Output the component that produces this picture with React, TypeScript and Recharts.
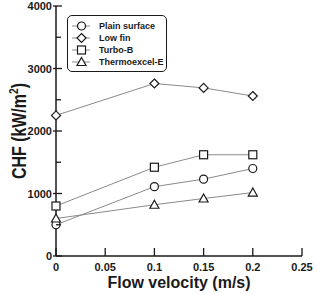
import { LineChart, Line, XAxis, YAxis } from "recharts";

const FONT = "'Liberation Sans', Arial, sans-serif";
const INK = "#1a1a1a";
const LINE_GREY = "#8a8a8a";

// flow velocity (m/s)
const velocity = [0, 0.1, 0.15, 0.2];
// CHF values in kW/m^2
const plainSurface = [500, 1110, 1230, 1400];
const lowFin = [2250, 2760, 2690, 2560];
const turboB = [800, 1420, 1620, 1620];
const thermoexcelE = [600, 820, 920, 1015];

const xTicks = [0, 0.05, 0.1, 0.15, 0.2, 0.25];
const yTicks = [0, 500, 1000, 1500, 2000, 2500, 3000, 3500, 4000];

const seriesNames = ["Plain surface", "Low fin", "Turbo-B", "Thermoexcel-E"];

const rows = velocity.map((v, i) => ({
  v,
  plain: plainSurface[i],
  lowFin: lowFin[i],
  turbo: turboB[i],
  thermo: thermoexcelE[i],
}));

type Shape = "circle" | "diamond" | "square" | "triangle";

function Marker({ cx, cy, shape }: { cx: number; cy: number; shape: Shape }) {
  const common = { fill: "#fff", stroke: INK, strokeWidth: 1.2 };
  if (shape === "circle") return <circle cx={cx} cy={cy} r={4} {...common} />;
  if (shape === "square") return <rect x={cx - 4} y={cy - 4} width={8} height={8} {...common} />;
  if (shape === "diamond")
    return <polygon points={`${cx},${cy - 4.5} ${cx + 4.5},${cy} ${cx},${cy + 4.5} ${cx - 4.5},${cy}`} {...common} />;
  return <polygon points={`${cx},${cy - 4.5} ${cx + 4.5},${cy + 3.5} ${cx - 4.5},${cy + 3.5}`} {...common} />;
}

const dotFor = (shape: Shape) => (props: any) => (
  <Marker key={`${shape}-${props.index}`} cx={props.cx} cy={props.cy} shape={shape} />
);

const shapes: Shape[] = ["circle", "diamond", "square", "triangle"];

function YTick({ x, y, payload }: any) {
  const v = payload.value as number;
  const major = v % 1000 === 0;
  return (
    <g>
      <line x1={major ? x - 3 : x} x2={x + (major ? 6 : 5)} y1={y} y2={y} stroke={INK} strokeWidth={1.3} />
      {major && (
        <text x={x - 4} y={y} dy={4} textAnchor="end" fontFamily={FONT} fontSize={11} fontWeight="bold" fill={INK}>
          {v}
        </text>
      )}
    </g>
  );
}

function XTick({ x, y, payload }: any) {
  const v = payload.value as number;
  return (
    <g>
      <line x1={x} x2={x} y1={y} y2={y - 8} stroke={INK} strokeWidth={1.3} />
      <text x={x} y={y + 15} textAnchor="middle" fontFamily={FONT} fontSize={11} fontWeight="bold" fill={INK}>
        {v}
      </text>
    </g>
  );
}

// legend box, laid over the plot's upper-left corner
function LegendBox() {
  return (
    <div
      style={{
        position: "absolute",
        left: 67,
        top: 15,
        width: 100,
        height: 57,
        border: `1.5px solid ${INK}`,
        borderRadius: 5,
        background: "#fff",
        fontFamily: FONT,
        fontSize: 9,
        fontWeight: "bold",
        color: INK,
        boxSizing: "border-box",
        paddingTop: 3.5,
      }}
    >
      {seriesNames.map((name, i) => (
        <div key={name} style={{ display: "flex", alignItems: "center", height: 12.2, lineHeight: "12px" }}>
          <svg width={28} height={12} style={{ marginLeft: 3, flex: "none" }}>
            <line x1={1} x2={19} y1={6} y2={6} stroke={LINE_GREY} strokeWidth={1} />
            <Marker cx={10.5} cy={6} shape={shapes[i]} />
          </svg>
          <span style={{ whiteSpace: "nowrap" }}>{name}</span>
        </div>
      ))}
    </div>
  );
}

function YTitle({ viewBox }: any) {
  const cx = 26;
  const cy = viewBox.y + viewBox.height / 2;
  return (
    <text
      x={cx}
      y={cy}
      transform={`rotate(-90, ${cx}, ${cy})`}
      textAnchor="middle"
      fontFamily={FONT}
      fontSize={20}
      fontWeight="bold"
      fill={INK}
      textLength={96}
      lengthAdjust="spacingAndGlyphs"
    >
      CHF (kW/m
      <tspan fontSize={13} dy={-8}>2</tspan>
      <tspan dy={8}>)</tspan>
    </text>
  );
}

function XTitle({ viewBox }: any) {
  return (
    <text
      x={viewBox.x + viewBox.width / 2}
      y={288}
      textAnchor="middle"
      fontFamily={FONT}
      fontSize={16}
      fontWeight="bold"
      fill={INK}
    >
      Flow velocity (m/s)
    </text>
  );
}

export default function App() {
  return (
    <div style={{ position: "absolute", left: 0, top: 0, width: 317, height: 294, background: "#fff" }}>
      <LineChart width={317} height={294} data={rows} margin={{ top: 6, right: 15, left: 0, bottom: 0 }}>
        <XAxis
          dataKey="v"
          type="number"
          domain={[0, 0.25]}
          ticks={xTicks}
          interval={0}
          height={38}
          tickSize={0}
          tickMargin={0}
          tickLine={false}
          axisLine={{ stroke: INK, strokeWidth: 1.5 }}
          tick={<XTick />}
          label={{ content: <XTitle /> }}
        />
        <XAxis
          xAxisId="top"
          orientation="top"
          type="number"
          domain={[0, 0.25]}
          height={0}
          tick={false}
          tickLine={false}
          axisLine={{ stroke: INK, strokeWidth: 1.5 }}
        />
        <YAxis
          type="number"
          domain={[0, 4000]}
          ticks={yTicks}
          interval={0}
          width={56}
          tickSize={0}
          tickMargin={0}
          tickLine={false}
          axisLine={{ stroke: INK, strokeWidth: 1.5 }}
          tick={<YTick />}
          label={{ content: <YTitle /> }}
        />
        <YAxis
          yAxisId="right"
          orientation="right"
          width={0}
          tick={false}
          tickLine={false}
          axisLine={{ stroke: INK, strokeWidth: 1.5 }}
        />
        <Line dataKey="plain" name="Plain surface" stroke={LINE_GREY} strokeWidth={1} dot={dotFor("circle")} isAnimationActive={false} />
        <Line dataKey="lowFin" name="Low fin" stroke={LINE_GREY} strokeWidth={1} dot={dotFor("diamond")} isAnimationActive={false} />
        <Line dataKey="turbo" name="Turbo-B" stroke={LINE_GREY} strokeWidth={1} dot={dotFor("square")} isAnimationActive={false} />
        <Line dataKey="thermo" name="Thermoexcel-E" stroke={LINE_GREY} strokeWidth={1} dot={dotFor("triangle")} isAnimationActive={false} />
      </LineChart>
      <LegendBox />
    </div>
  );
}
